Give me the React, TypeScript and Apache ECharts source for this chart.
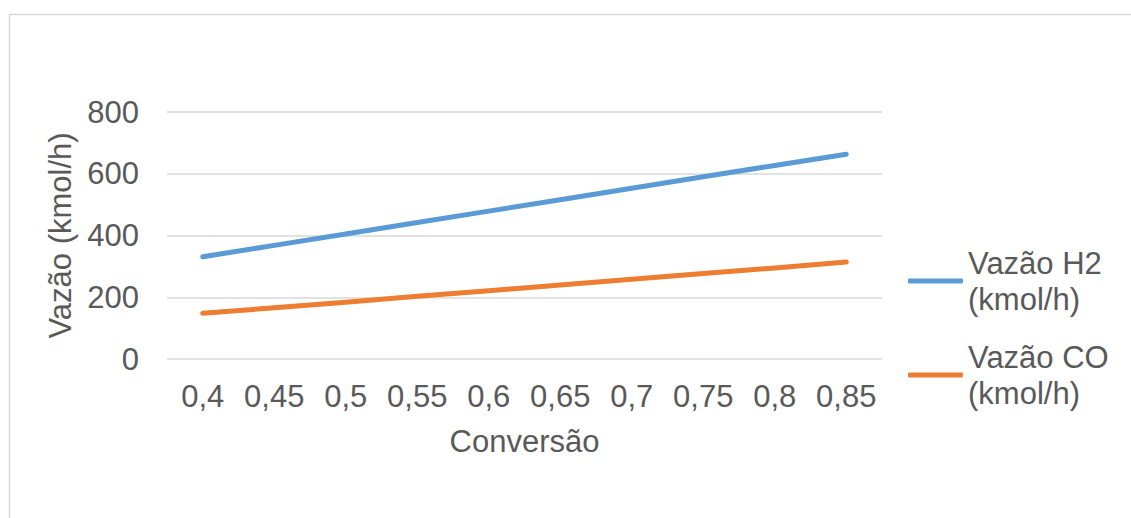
import React, { useEffect, useRef } from "react";
import * as echarts from "echarts";

// Conversion values on the category axis
const conversoes: string[] = ["0,4", "0,45", "0,5", "0,55", "0,6", "0,65", "0,7", "0,75", "0,8", "0,85"];

// Flow rates in kmol/h
const vazaoH2: number[] = [331, 368, 405, 442, 479, 516, 553, 590, 627, 663];
const vazaoCO: number[] = [148, 166, 184, 203, 221, 240, 258, 277, 295, 314];

const serieH2 = "Vazão H2 (kmol/h)";
const serieCO = "Vazão CO (kmol/h)";

const yTicks = { min: 0, max: 800, interval: 200 };

const FONT = "'Liberation Sans', Arial, sans-serif";
const TEXT_COLOR = "#595959";
const GRID_COLOR = "#D9D9D9";
const BLUE = "#5B9BD5";
const ORANGE = "#ED7D31";
const FS = 31;
const LINE_H = 36;

function legendFor(name: string, top: number) {
  return {
    data: [name],
    orient: "vertical",
    left: 908,
    top,
    padding: 0,
    icon: "roundRect",
    itemWidth: 55,
    itemHeight: 5,
    itemGap: 0,
    selectedMode: false,
    formatter: (n: string) => n.replace(" (", "\n("),
    textStyle: {
      fontFamily: FONT,
      fontSize: FS,
      color: TEXT_COLOR,
      lineHeight: LINE_H,
      // push the text down one line so the icon sits on the first line
      padding: [LINE_H, 0, 0, 0],
    },
  };
}

export default function App() {
  const ref = useRef<HTMLDivElement>(null);

  useEffect(() => {
    if (!ref.current) return;
    const chart = echarts.init(ref.current, undefined, { renderer: "svg" });
    chart.setOption({
      animation: false,
      backgroundColor: "#FFFFFF",
      graphic: [
        {
          type: "rect",
          left: 7,
          top: 12,
          shape: { x: 0, y: 0, width: 1200, height: 600 },
          style: { fill: "none", stroke: GRID_COLOR, lineWidth: 1.5 },
          silent: true,
          z: -10,
        },
      ],
      grid: { left: 167, right: 249, top: 112, bottom: 159, containLabel: false },
      legend: [legendFor(serieH2, 281 - 54), legendFor(serieCO, 375 - 54)],
      xAxis: {
        type: "category",
        data: conversoes,
        boundaryGap: true,
        name: "Conversão",
        nameLocation: "middle",
        nameGap: 67,
        nameTextStyle: { fontFamily: FONT, fontSize: FS, color: TEXT_COLOR },
        axisLine: { show: false },
        axisTick: { show: false },
        axisLabel: {
          interval: 0,
          hideOverlap: false,
          fontFamily: FONT,
          fontSize: FS,
          color: TEXT_COLOR,
          margin: 22,
        },
        splitLine: { show: false },
      },
      yAxis: {
        type: "value",
        min: yTicks.min,
        max: yTicks.max,
        interval: yTicks.interval,
        name: "Vazão (kmol/h)",
        nameLocation: "middle",
        nameGap: 88,
        nameTextStyle: { fontFamily: FONT, fontSize: FS, color: TEXT_COLOR },
        axisLine: { show: false },
        axisTick: { show: false },
        axisLabel: { fontFamily: FONT, fontSize: FS, color: TEXT_COLOR, margin: 28 },
        splitLine: { show: true, lineStyle: { color: GRID_COLOR, width: 1.5 } },
      },
      series: [
        {
          name: serieH2,
          type: "line",
          data: vazaoH2,
          symbol: "none",
          color: BLUE,
          lineStyle: { color: BLUE, width: 5, cap: "round", join: "round" },
        },
        {
          name: serieCO,
          type: "line",
          data: vazaoCO,
          symbol: "none",
          color: ORANGE,
          lineStyle: { color: ORANGE, width: 5, cap: "round", join: "round" },
        },
      ],
    });
    return () => chart.dispose();
  }, []);

  return (
    <div
      ref={ref}
      style={{ position: "absolute", left: 0, top: 0, width: 1131, height: 518 }}
    />
  );
}
